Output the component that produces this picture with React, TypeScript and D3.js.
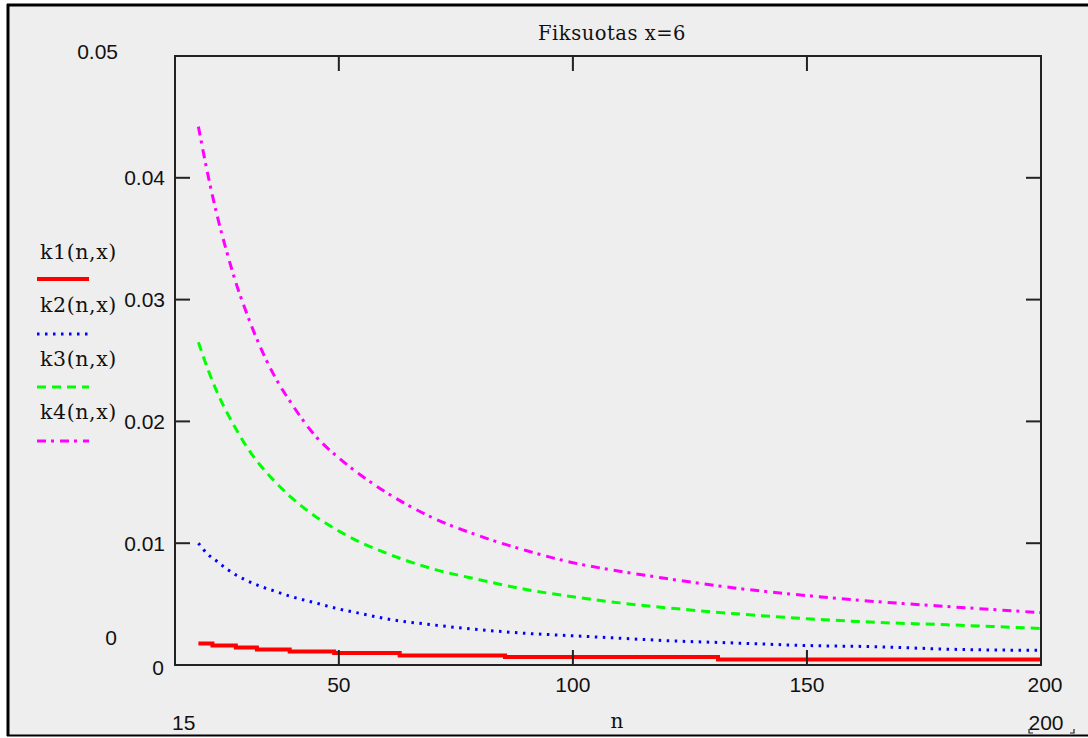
import React from "react";
import * as d3 from "d3";

// ---- data ----
const nValues = [20, 22, 24, 26, 28, 30, 33, 36, 40, 45, 50, 55, 60, 70, 80, 90, 100, 110, 120, 135, 150, 165, 180, 200];
const k2Values = [0.0100, 0.0091, 0.0085, 0.0079, 0.0074, 0.0070, 0.0065, 0.0061, 0.0056, 0.0051, 0.0046, 0.0042, 0.0038, 0.0033, 0.0029, 0.0026, 0.0024, 0.0022, 0.0020, 0.0018, 0.0016, 0.0015, 0.0013, 0.0012];
const k3Values = [0.0265, 0.0243, 0.0224, 0.0208, 0.0194, 0.0181, 0.0165, 0.0152, 0.0137, 0.0122, 0.0110, 0.0100, 0.0092, 0.0079, 0.0070, 0.0062, 0.0056, 0.0051, 0.0047, 0.0042, 0.0038, 0.0035, 0.0033, 0.0030];
const k4Values = [0.0442, 0.0403, 0.0369, 0.0340, 0.0314, 0.0292, 0.0263, 0.0239, 0.0214, 0.0188, 0.0170, 0.0155, 0.0142, 0.0121, 0.0106, 0.0094, 0.0084, 0.0077, 0.0071, 0.0063, 0.0057, 0.0052, 0.0048, 0.0043];
// k1 is drawn as the stair-stepped line of the reference
const k1StepN = [20, 23, 28, 32.5, 39.5, 49, 63, 85.5, 131, 200];
const k1StepValues = [0.00177, 0.0016, 0.00144, 0.00127, 0.00111, 0.00099, 0.00078, 0.00066, 0.00045, 0.00045];

const xTicks = [50, 100, 150, 200];
const yTicks = [0.01, 0.02, 0.03, 0.04];
const yTickLabels = ["0.01", "0.02", "0.03", "0.04"];
const legendLabels = ["k1(n,x)", "k2(n,x)", "k3(n,x)", "k4(n,x)"];
const title = "Fiksuotas x=6";
const xMin = 15, xMax = 200, yMin = 0, yMax = 0.05;

const W = 1088, H = 738;
const plot = { left: 175, right: 1041, top: 56, bottom: 665 };
const colors = ["#ff0000", "#0000ff", "#00ff00", "#ff00ff"];
const dashes = ["none", "2.5,5.5", "9,6", "9,5,3,6"];
const widths = [4, 3, 3, 3];

const sans = "'Liberation Sans', Arial, sans-serif";
const serif = "'DejaVu Serif', serif";

export default function App() {
  const x = d3.scaleLinear().domain([xMin, xMax]).range([plot.left, plot.right]);
  const y = d3.scaleLinear().domain([yMin, yMax]).range([plot.bottom, plot.top]);

  const line = d3.line<[number, number]>().x(d => x(d[0])).y(d => y(d[1])).curve(d3.curveMonotoneX);
  const stepLine = d3.line<[number, number]>().x(d => x(d[0])).y(d => y(d[1])).curve(d3.curveStepAfter);

  const series: string[] = [
    stepLine(k1StepN.map((n, i) => [n, k1StepValues[i]] as [number, number])) || "",
    line(nValues.map((n, i) => [n, k2Values[i]] as [number, number])) || "",
    line(nValues.map((n, i) => [n, k3Values[i]] as [number, number])) || "",
    line(nValues.map((n, i) => [n, k4Values[i]] as [number, number])) || "",
  ];

  const legendTextY = [259, 312, 366, 419];
  const legendLineY = [279, 334, 387, 441];
  const tickLen = 15;

  return (
    <svg width={W} height={H} style={{ position: "absolute", left: 0, top: 0, display: "block" }}>
      <rect x={0} y={0} width={W} height={H} fill="#ffffff" />
      <rect x={8} y={5} width={W - 8} height={730} fill="#eeeeee" />
      {/* outer frame */}
      <line x1={8} y1={4} x2={8} y2={736} stroke="#000" strokeWidth={3} />
      <line x1={7} y1={5} x2={W} y2={5} stroke="#000" strokeWidth={3} />
      <line x1={7} y1={735.5} x2={W} y2={735.5} stroke="#000" strokeWidth={2} />

      {/* title */}
      <text x={(plot.left + plot.right) / 2 + 4} y={40} textAnchor="middle" fontFamily={serif} fontSize={19.5} letterSpacing={0.5} fill="#111">{title}</text>

      <defs>
        <clipPath id="clip">
          <rect x={plot.left} y={plot.top} width={plot.right - plot.left} height={plot.bottom - plot.top} />
        </clipPath>
      </defs>
      {/* series */}
      <g clipPath="url(#clip)">
        {series.map((d, i) => (
          <path key={i} d={d} fill="none" stroke={colors[i]} strokeWidth={widths[i]}
            strokeDasharray={dashes[i] === "none" ? undefined : dashes[i]} />
        ))}
      </g>

      {/* plot frame */}
      <rect x={plot.left} y={plot.top} width={plot.right - plot.left} height={plot.bottom - plot.top}
        fill="none" stroke="#222" strokeWidth={2} />

      {/* y ticks (both sides, inward) */}
      {yTicks.map((t, i) => (
        <g key={"y" + i}>
          <line x1={plot.left} x2={plot.left + tickLen} y1={y(t)} y2={y(t)} stroke="#222" strokeWidth={2} />
          <line x1={plot.right} x2={plot.right - tickLen} y1={y(t)} y2={y(t)} stroke="#222" strokeWidth={2} />
          <text x={165} y={y(t) + 7.5} textAnchor="end" fontFamily={sans} fontSize={21} fill="#111">{yTickLabels[i]}</text>
        </g>
      ))}
      <text x={164} y={y(0) + 10} textAnchor="end" fontFamily={sans} fontSize={21} fill="#111">0</text>
      {/* y limits */}
      <text x={118} y={59} textAnchor="end" fontFamily={sans} fontSize={21} fill="#111">{String(yMax)}</text>
      <text x={117} y={645} textAnchor="end" fontFamily={sans} fontSize={21} fill="#111">{String(yMin)}</text>

      {/* x ticks (top & bottom, inward) */}
      {xTicks.map((t, i) => (
        <g key={"x" + i}>
          {t < xMax && <line x1={x(t)} x2={x(t)} y1={plot.bottom} y2={plot.bottom - tickLen} stroke="#222" strokeWidth={2} />}
          {t < xMax && <line x1={x(t)} x2={x(t)} y1={plot.top} y2={plot.top + tickLen} stroke="#222" strokeWidth={2} />}
          <text x={x(t) + (t === xMax ? 4 : 0)} y={692} textAnchor="middle" fontFamily={sans} fontSize={21} fill="#111">{String(t)}</text>
        </g>
      ))}
      {/* x limits and axis name */}
      <text x={172} y={730} textAnchor="start" fontFamily={sans} fontSize={21} fill="#111">{String(xMin)}</text>
      <text x={(plot.left + plot.right) / 2 + 9} y={728} textAnchor="middle" fontFamily={serif} fontSize={20} fill="#111">n</text>
      <text x={1046} y={730} textAnchor="middle" fontFamily={sans} fontSize={21} fill="#111">{String(xMax)}</text>
      <path d="M1029,729 L1029,733 L1033,733" fill="none" stroke="#222" strokeWidth={1.2} />
      <path d="M1070,733 L1074,733 L1074,729" fill="none" stroke="#222" strokeWidth={1.2} />

      {/* legend */}
      {legendLabels.map((lab, i) => (
        <g key={"l" + i}>
          <text x={40} y={legendTextY[i]} fontFamily={serif} fontSize={20.5} letterSpacing={0.6} fill="#111">{lab}</text>
          <line x1={37} x2={89} y1={legendLineY[i]} y2={legendLineY[i]} stroke={colors[i]} strokeWidth={widths[i]}
            strokeDasharray={dashes[i] === "none" ? undefined : dashes[i]} />
        </g>
      ))}
    </svg>
  );
}
